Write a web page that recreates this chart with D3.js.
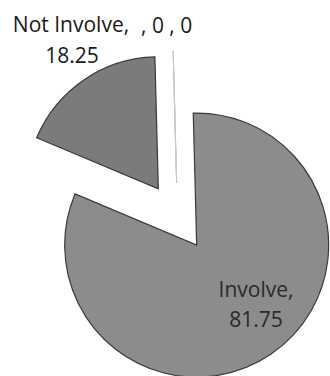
<!DOCTYPE html>
<html><head><meta charset="utf-8">
<script src="https://cdn.jsdelivr.net/npm/d3@7"></script>
<style>html,body{margin:0;padding:0;background:#fff;}</style>
</head><body>
<svg id="c" width="330" height="376"></svg>
<script>
const categories = ["Involve", "Not Involve", "", ""];
const values = [81.75, 18.25, 0, 0];
const fills = ["#8c8c8c", "#7b7b7b", "#bdbdbd", "#bdbdbd"];

const svg = d3.select("#c");
const cx = 177.5, cy = 217, R = 132, explode = 34;
const rot = -0.026;
const data = categories.map((c, i) => ({name: c, value: values[i], i}));
const pie = d3.pie().sort(null).value(d => d.value).startAngle(rot).endAngle(2 * Math.PI + rot);
const arcs = pie(data);
const arc = d3.arc().innerRadius(0).outerRadius(R);

const g = svg.append("g").attr("transform", `translate(${cx},${cy})`);
g.selectAll("path").data(arcs).join("path")
  .attr("transform", d => {
    const a = (d.startAngle + d.endAngle) / 2;
    return `translate(${explode * Math.sin(a)},${-explode * Math.cos(a)})`;
  })
  .attr("d", arc)
  .attr("fill", d => fills[d.data.i])
  .attr("stroke", d => d.value === 0 ? "#c8c8c8" : "#3a3a3a")
  .attr("stroke-width", d => d.value === 0 ? 1 : 1.2);

const font = "'Open Sans', sans-serif";
const fs = 21;
// Involve label (inside)
const t1 = svg.append("g").attr("font-family", font).attr("font-size", fs).attr("fill", "#2a2a2a").attr("text-anchor", "middle");
t1.append("text").attr("x", 256).attr("y", 297).text(categories[0] + ",");
t1.append("text").attr("x", 256).attr("y", 327).text(values[0]);
// Not Involve label (outside)
const t2 = svg.append("g").attr("font-family", font).attr("font-size", fs).attr("fill", "#1a1a1a").attr("text-anchor", "middle");
t2.append("text").attr("x", 71).attr("y", 32).text(categories[1] + ",");
t2.append("text").attr("x", 72).attr("y", 63).text(values[1]);
// zero labels
svg.append("text").attr("font-family", font).attr("font-size", fs).attr("fill", "#1a1a1a")
  .attr("x", 141).attr("y", 33)
  .text(categories[2] + ", " + values[2] + " " + categories[3] + ", " + values[3]);
</script>
</body></html>
